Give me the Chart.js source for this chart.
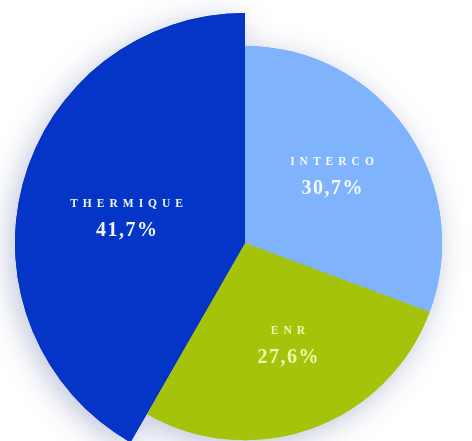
<!DOCTYPE html>
<html>
<head>
<meta charset="utf-8">
<script src="https://cdn.jsdelivr.net/npm/chart.js@4/dist/chart.umd.min.js"></script>
<style>
  html, body { margin: 0; padding: 0; background: #ffffff; overflow: hidden; width: 472px; height: 441px; }
  #wrap { position: absolute; left: 0; top: 0; width: 490px; height: 486px; }
</style>
</head>
<body>
<div id="wrap"><canvas id="mix"></canvas></div>
<script>
// Production mix, share of each source (%)
const categories = ['INTERCO', 'ENR', 'THERMIQUE'];
const shares = [30.7, 27.6, 41.7];
const valueLabels = ['30,7%', '27,6%', '41,7%'];

// Styling
const sliceColors = ['#7fb3fc', '#a6c30b', '#0535c6'];
const textColors = ['#f6f9ff', '#f2f6b0', '#f0f4ff'];
const sliceRadiusScale = [0.857, 0.857, 1]; // thermal slice stands out
const labelDistance = [110, 111, 121];       // px from the pie centre
const labelTurn = -3 * Math.PI / 180;         // small counter-clockwise nudge

// Per-slice outer radius
const radiusPlugin = {
  id: 'sliceRadius',
  afterDatasetUpdate(chart, args) {
    const meta = chart.getDatasetMeta(args.index);
    const base = meta.controller.outerRadius;
    meta.data.forEach((arc, i) => { arc.outerRadius = base * sliceRadiusScale[i]; });
  }
};

// Soft drop shadow under the whole pie
const shadowPlugin = {
  id: 'pieShadow',
  beforeDatasetsDraw(chart) {
    const ctx = chart.ctx;
    const meta = chart.getDatasetMeta(0);
    ctx.save();
    ctx.shadowColor = 'rgba(110, 125, 170, 0.45)';
    ctx.shadowBlur = 30;
    ctx.shadowOffsetX = -5;
    ctx.shadowOffsetY = 6;
    meta.data.forEach(arc => arc.draw(ctx));
    ctx.restore();
  }
};

// Category name and percentage inside each slice
const labelPlugin = {
  id: 'sliceLabels',
  afterDatasetsDraw(chart) {
    const ctx = chart.ctx;
    const meta = chart.getDatasetMeta(0);
    meta.data.forEach((arc, i) => {
      const mid = (arc.startAngle + arc.endAngle) / 2 + labelTurn;
      const d = labelDistance[i];
      const x = arc.x + Math.cos(mid) * d;
      const y = arc.y + Math.sin(mid) * d;
      ctx.save();
      ctx.fillStyle = textColors[i];
      ctx.textAlign = 'center';
      ctx.textBaseline = 'middle';
      ctx.font = 'bold 11.5px "Liberation Serif", serif';
      ctx.letterSpacing = '5px';
      ctx.fillText(categories[i], x + 2.5, y - 14);
      ctx.font = 'bold 20px "Liberation Serif", serif';
      ctx.letterSpacing = '1.5px';
      ctx.fillText(valueLabels[i], x + 0.75, y + 13);
      ctx.restore();
    });
  }
};

new Chart(document.getElementById('mix'), {
  type: 'pie',
  data: {
    labels: categories,
    datasets: [{
      data: shares,
      backgroundColor: sliceColors,
      borderWidth: 0,
      hoverOffset: 0
    }]
  },
  options: {
    responsive: true,
    maintainAspectRatio: false,
    animation: false,
    radius: 230,
    layout: { padding: 13 },
    events: [],
    plugins: {
      legend: { display: false },
      tooltip: { enabled: false },
      title: { display: false }
    }
  },
  plugins: [radiusPlugin, shadowPlugin, labelPlugin]
});
</script>
</body>
</html>
